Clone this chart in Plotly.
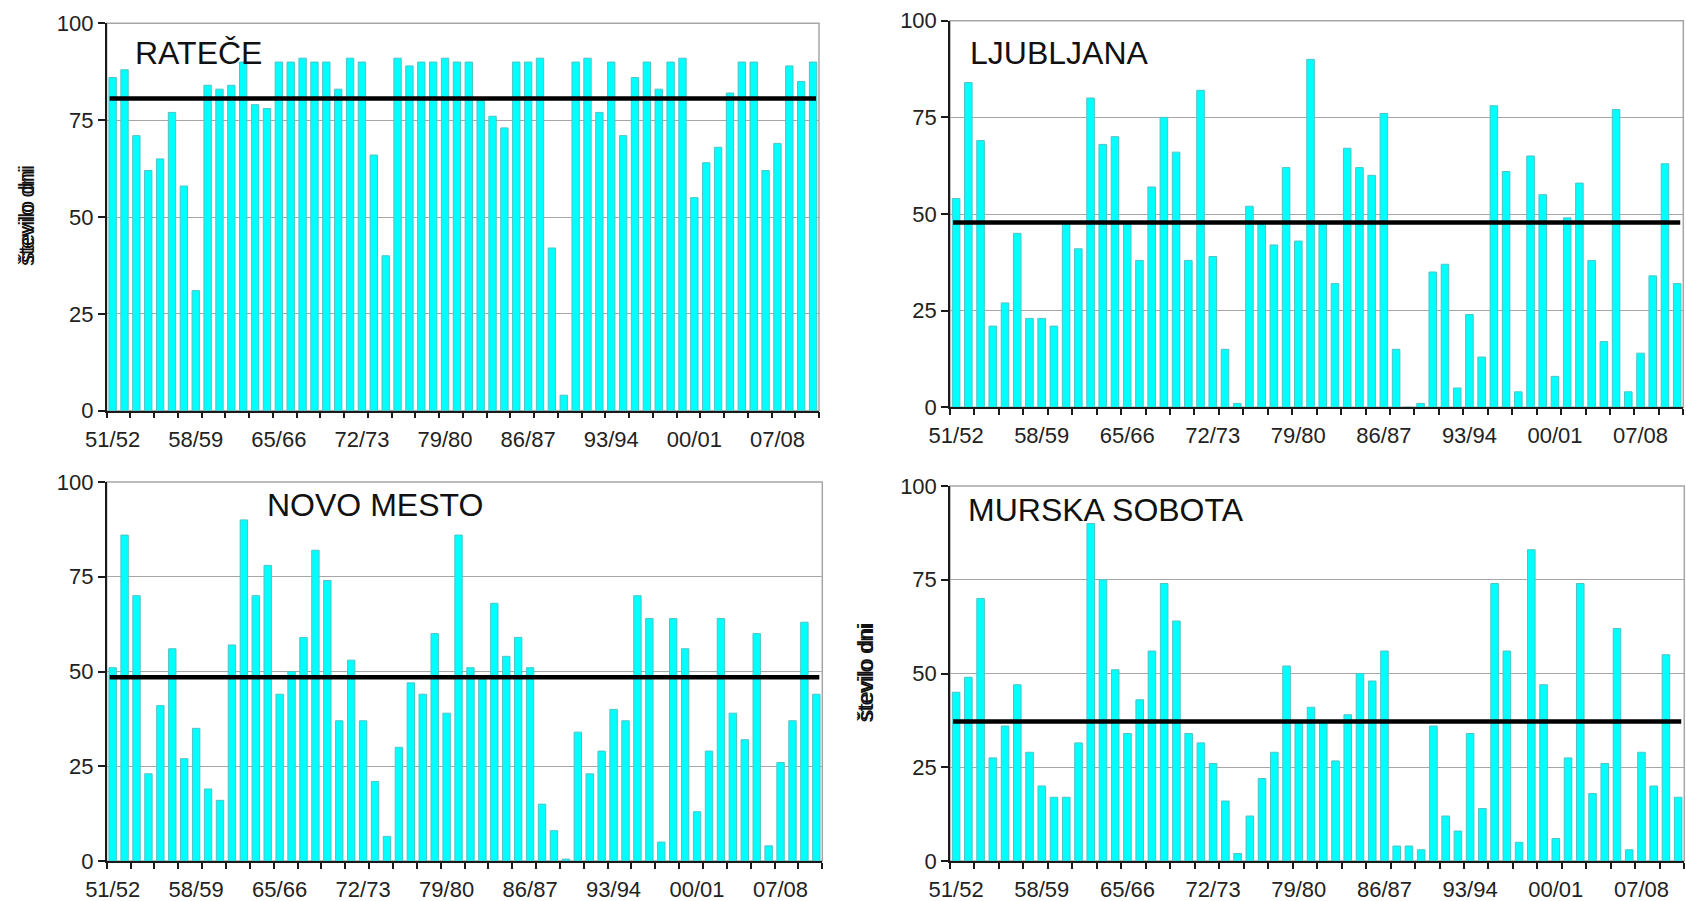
import plotly.graph_objects as go

# Winter seasons 1951/52 - 2010/11
seasons = [f"{y % 100:02d}/{(y + 1) % 100:02d}" for y in range(1951, 2011)]

# Number of days with snow cover per season
ratece = [86, 88, 71, 62, 65, 77, 58, 31, 84, 83, 84, 90, 79, 78, 90, 90, 91, 90, 90, 83,
          91, 90, 66, 40, 91, 89, 90, 90, 91, 90, 90, 80, 76, 73, 90, 90, 91, 42, 4, 90,
          91, 77, 90, 71, 86, 90, 83, 90, 91, 55, 64, 68, 82, 90, 90, 62, 69, 89, 85, 90]
ljubljana = [54, 84, 69, 21, 27, 45, 23, 23, 21, 48, 41, 80, 68, 70, 48, 38, 57, 75, 66, 38,
             82, 39, 15, 1, 52, 48, 42, 62, 43, 90, 48, 32, 67, 62, 60, 76, 15, 0, 1, 35,
             37, 5, 24, 13, 78, 61, 4, 65, 55, 8, 49, 58, 38, 17, 77, 4, 14, 34, 63, 32]
novo_mesto = [51, 86, 70, 23, 41, 56, 27, 35, 19, 16, 57, 90, 70, 78, 44, 50, 59, 82, 74, 37,
              53, 37, 21, 6.5, 30, 47, 44, 60, 39, 86, 51, 48, 68, 54, 59, 51, 15, 8, 0.5, 34,
              23, 29, 40, 37, 70, 64, 5, 64, 56, 13, 29, 64, 39, 32, 60, 4, 26, 37, 63, 44]
murska_sobota = [45, 49, 70, 27.5, 36, 47, 29, 20, 17, 17, 31.5, 90, 75, 51, 34, 43, 56, 74, 64, 34,
                 31.5, 26, 16, 2, 12, 22, 29, 52, 37, 41, 37, 26.7, 39, 50, 48, 56, 4, 4, 3, 36,
                 12, 8, 34, 14, 74, 56, 5, 83, 47, 6, 27.5, 74, 18, 26, 62, 3, 29, 20, 55, 17]

stations = ["RATEČE", "LJUBLJANA", "NOVO MESTO", "MURSKA SOBOTA"]
series = [ratece, ljubljana, novo_mesto, murska_sobota]
averages = [80.6, 47.8, 48.5, 37.2]

y_ticks = [0, 25, 50, 75, 100]
label_step = 7

FONT = "Arial, Liberation Sans, sans-serif"
W, H = 1686, 901

# Plot-area boxes in pixels: (left, right, top, bottom)
boxes = [
    (106.7, 819.0, 23.3, 410.7),
    (950.0, 1683.3, 20.7, 407.3),
    (106.7, 822.3, 482.0, 861.0),
    (950.0, 1684.3, 486.0, 861.0),
]
# Station name placement inside each panel (x from left, y from bottom, domain fractions)
name_pos = [(0.037, 0.923), (0.024, 0.916), (0.221, 0.939), (0.022, 0.936)]
ytitle_x = [26, 26, 865, 865]

fig = go.Figure()
idx = list(range(len(seasons)))

for i, (name, vals, avg) in enumerate(zip(stations, series, averages)):
    n = i + 1
    xa = "x" if n == 1 else f"x{n}"
    ya = "y" if n == 1 else f"y{n}"
    fig.add_trace(go.Bar(
        x=idx, y=vals, xaxis=xa, yaxis=ya, width=0.62,
        marker=dict(color="#00FFFF", line=dict(color="#4FC4C4", width=1)),
        showlegend=False, hoverinfo="skip",
    ))
    fig.add_trace(go.Scatter(
        x=[idx[0] - 0.25, idx[-1] + 0.25], y=[avg, avg], xaxis=xa, yaxis=ya,
        mode="lines", line=dict(color="#000000", width=4.5),
        showlegend=False, hoverinfo="skip",
    ))

    l, r, t, b = boxes[i]
    xkey = "xaxis" if n == 1 else f"xaxis{n}"
    ykey = "yaxis" if n == 1 else f"yaxis{n}"
    fig.layout[xkey] = dict(
        domain=[l / W, r / W], anchor=ya, automargin=False,
        range=[-0.5, len(seasons) - 0.5],
        tickmode="array", tickvals=idx[::label_step], ticktext=seasons[::label_step],
        ticks="", ticklabelstandoff=8, showgrid=False, zeroline=False,
        showline=True, linecolor="#1a1a1a", linewidth=1.5,
        tickfont=dict(family=FONT, size=22, color="#222222"),
        minor=dict(ticks="outside", ticklen=6, tickwidth=1.5, tickcolor="#1a1a1a",
                   tickmode="array",
                   tickvals=[k - 0.5 for k in range(0, len(seasons) + 1, 2)],
                   showgrid=False),
        fixedrange=True,
    )
    fig.layout[ykey] = dict(
        domain=[1 - b / H, 1 - t / H], anchor=xa, automargin=False,
        range=[0, 100], tickmode="array", tickvals=y_ticks,
        ticks="outside", ticklen=7, tickwidth=1.5, tickcolor="#1a1a1a",
        showgrid=True, gridcolor="#a6a6a6", gridwidth=1.2,
        zeroline=False, showline=True, linecolor="#1a1a1a", linewidth=1.5,
        tickfont=dict(family=FONT, size=22, color="#222222"),
        fixedrange=True,
    )
    # light frame around the plot area (top and right edges)
    fig.add_shape(type="rect", xref=f"{xa} domain", yref=f"{ya} domain",
                  x0=0, x1=1, y0=0, y1=1, line=dict(color="#a6a6a6", width=1.5),
                  layer="below")
    nx, ny = name_pos[i]
    fig.add_annotation(text=name, xref=f"{xa} domain", yref=f"{ya} domain",
                       x=nx, y=ny, xanchor="left", yanchor="middle", showarrow=False,
                       font=dict(family=FONT, size=32, color="#111111"))
    fig.add_annotation(text="število dni", xref="paper", yref=f"{ya} domain",
                       x=ytitle_x[i] / W, y=0.5, xanchor="center", yanchor="middle",
                       textangle=-90, showarrow=False,
                       font=dict(family="Liberation Sans, Arial, sans-serif", size=22,
                                 color="#111111"))

fig.update_layout(
    width=W, height=H, autosize=False,
    margin=dict(l=0, r=0, t=0, b=0),
    paper_bgcolor="white", plot_bgcolor="white",
    bargap=0.38,
)

fig.write_html("out.html")
